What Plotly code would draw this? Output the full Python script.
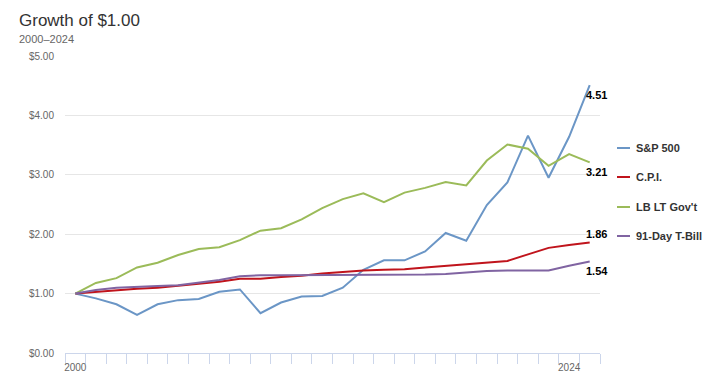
import plotly.graph_objects as go

years = list(range(2000, 2026))
tick_labels = {0: "2000", 24: "2024"}

sp500 = [1.00, 0.92, 0.82, 0.64, 0.82, 0.89, 0.91, 1.03, 1.07, 0.67, 0.85, 0.95, 0.96,
         1.10, 1.40, 1.56, 1.56, 1.71, 2.02, 1.89, 2.49, 2.87, 3.66, 2.95, 3.64, 4.51]
cpi = [1.00, 1.03, 1.05, 1.08, 1.10, 1.13, 1.17, 1.20, 1.25, 1.25, 1.28, 1.30, 1.34,
       1.37, 1.39, 1.40, 1.41, 1.44, 1.47, 1.49, 1.53, 1.55, 1.66, 1.77, 1.82, 1.86]
lbgov = [1.00, 1.18, 1.26, 1.44, 1.52, 1.65, 1.75, 1.78, 1.90, 2.06, 2.10, 2.25, 2.44,
         2.59, 2.69, 2.54, 2.70, 2.78, 2.88, 2.82, 3.24, 3.51, 3.44, 3.15, 3.35, 3.21]
tbill = [1.00, 1.06, 1.10, 1.12, 1.13, 1.14, 1.18, 1.23, 1.29, 1.31, 1.31, 1.31, 1.31,
         1.31, 1.31, 1.31, 1.31, 1.32, 1.33, 1.36, 1.38, 1.39, 1.39, 1.39, 1.47, 1.54]

series_names = ["S&P 500", "C.P.I.", "LB LT Gov't", "91-Day T-Bill"]
series_values = [sp500, cpi, lbgov, tbill]
colors = ["#6b96c6", "#c0141c", "#9bbb59", "#8064a2"]
label_yshift = [-10, 9, -10, -9]

x = list(range(len(years)))
FONT = "Liberation Sans, Arial, sans-serif"

fig = go.Figure()
for name, vals, col in zip(series_names, series_values, colors):
    fig.add_trace(go.Scatter(x=x, y=vals, mode="lines", name=name,
                             line=dict(color=col, width=2), showlegend=False,
                             hoverinfo="skip"))

annotations = []
# end-of-series data labels
for name, vals, ys in zip(series_names, series_values, label_yshift):
    annotations.append(dict(x=x[-1], y=vals[-1], xref="x", yref="y",
                            text=f"{vals[-1]:.2f}", showarrow=False,
                            xanchor="center", yanchor="middle",
                            xshift=7, yshift=ys,
                            font=dict(family=FONT, size=11, color="#000000",
                                      weight="bold")))

# manual legend (paper coordinates; plot spans px 65..600 by 56..353)
def px_x(px):
    return (px - 65) / 535.0

def px_y(py):
    return (353 - py) / 297.0

legend_y = [148, 177, 207, 236]
shapes = []
for name, col, ly in zip(series_names, colors, legend_y):
    shapes.append(dict(type="line", xref="paper", yref="paper",
                       x0=px_x(617), x1=px_x(630), y0=px_y(ly), y1=px_y(ly),
                       line=dict(color=col, width=2)))
    annotations.append(dict(x=px_x(634), y=px_y(ly), xref="paper", yref="paper",
                            text=name, showarrow=False, xanchor="left",
                            yanchor="middle",
                            font=dict(family=FONT, size=11, color="#333333",
                                      weight="bold")))

# title + subtitle
annotations.append(dict(x=px_x(17), y=px_y(21), xref="paper", yref="paper",
                        text="Growth of $1.00", showarrow=False, xanchor="left",
                        yanchor="middle",
                        font=dict(family=FONT, size=17, color="#333333")))
annotations.append(dict(x=px_x(17), y=px_y(39.5), xref="paper", yref="paper",
                        text="2000–2024", showarrow=False, xanchor="left",
                        yanchor="middle",
                        font=dict(family=FONT, size=11, color="#666666")))

fig.update_layout(
    width=720, height=386,
    margin=dict(l=65, r=120, t=56, b=33),
    paper_bgcolor="white", plot_bgcolor="white",
    showlegend=False,
    annotations=annotations,
    shapes=shapes,
    font=dict(family=FONT),
)
fig.update_xaxes(
    range=[-0.5, len(years) - 0.5],
    tickvals=list(tick_labels.keys()),
    ticktext=list(tick_labels.values()),
    ticks="", showgrid=False, zeroline=False,
    showline=True, linecolor="#ccd6eb", linewidth=1,
    tickfont=dict(family=FONT, size=10, color="#666666"),
    ticklabelstandoff=5,
    minor=dict(tickvals=[i - 0.5 for i in range(len(years) + 1)],
               ticks="outside", ticklen=10, tickcolor="#ccd6eb",
               tickwidth=1, showgrid=False),
)
fig.update_yaxes(
    range=[0, 5], dtick=1, tickprefix="$", tickformat=".2f",
    showgrid=True, gridcolor="#e6e6e6", gridwidth=1,
    zeroline=False, showline=False, ticks="",
    tickfont=dict(family=FONT, size=10, color="#666666"),
    ticklabelstandoff=10,
)

fig.write_html("out.html")
